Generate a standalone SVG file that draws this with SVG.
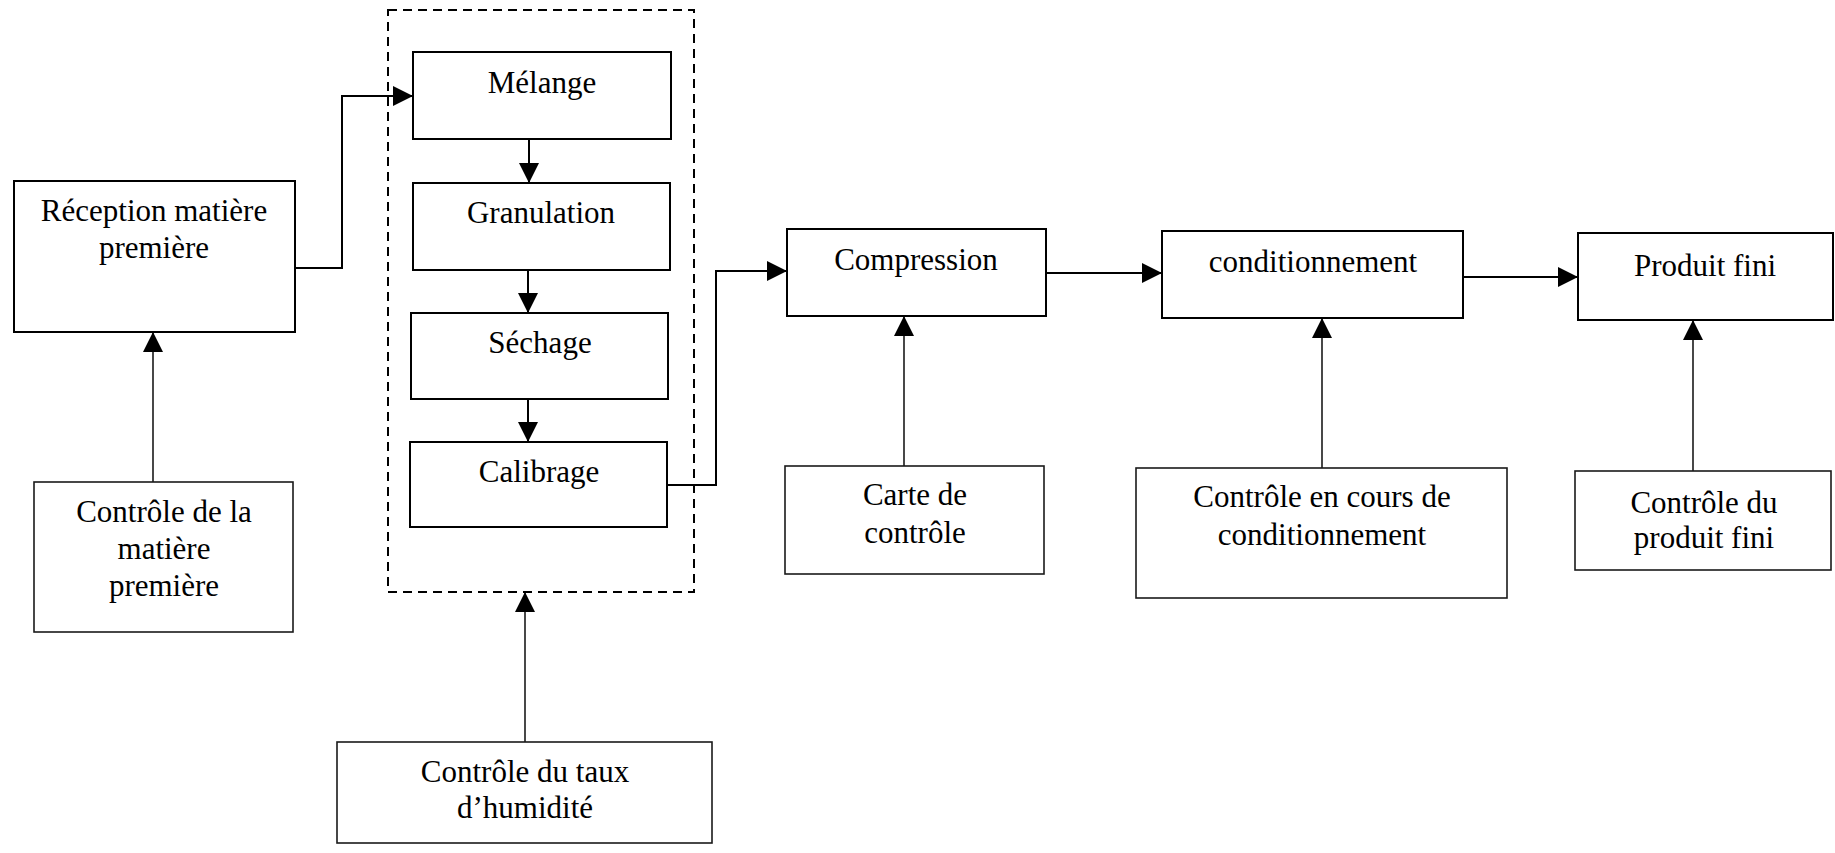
<svg xmlns="http://www.w3.org/2000/svg" width="1835" height="853" viewBox="0 0 1835 853">
  <style>
    .box { fill: #ffffff; stroke: #000000; stroke-width: 2; }
    .ctrl { fill: #ffffff; stroke: #1a1a1a; stroke-width: 1.6; }
    .group { fill: none; stroke: #000000; stroke-width: 2; stroke-dasharray: 9 6; }
    .label { font-family: "Liberation Serif", "Times New Roman", serif; font-size: 31px; fill: #000000; text-anchor: middle; }
    .flow { fill: none; stroke: #000000; stroke-width: 2; marker-end: url(#arrow); }
    .check { fill: none; stroke: #1a1a1a; stroke-width: 1.6; marker-end: url(#arrow); }
  </style>
  <defs>
    <marker id="arrow" markerUnits="userSpaceOnUse" markerWidth="20" markerHeight="20" refX="20" refY="10" orient="auto">
      <path d="M0,0 L20,10 L0,20 z" fill="#000000"/>
    </marker>
  </defs>
  <rect width="1835" height="853" fill="#ffffff"/>

  <!-- connectors -->
  <g id="connectors">
    <path class="flow" d="M295,268 H342 V96 H413"/>
    <path class="flow" d="M529,139 V183"/>
    <path class="flow" d="M528,270 V313"/>
    <path class="flow" d="M528,399 V442"/>
    <path class="flow" d="M667,485 H716 V271 H787"/>
    <path class="flow" d="M1046,273 H1162"/>
    <path class="flow" d="M1463,277 H1578"/>
    <path class="check" d="M153,482 V332"/>
    <path class="check" d="M525,742 V592"/>
    <path class="check" d="M904,466 V316"/>
    <path class="check" d="M1322,468 V318"/>
    <path class="check" d="M1693,471 V320"/>
  </g>

  <!-- wet granulation stage -->
  <g id="granulation-stage">
    <rect class="group" x="388" y="10" width="306" height="582"/>
  </g>

  <g id="reception">
    <rect class="box" x="14" y="181" width="281" height="151"/>
    <text class="label" x="154" y="221">Réception matière</text>
    <text class="label" x="154" y="258">première</text>
  </g>

  <g id="melange">
    <rect class="box" x="413" y="52" width="258" height="87"/>
    <text class="label" x="542" y="93">Mélange</text>
  </g>

  <g id="granulation">
    <rect class="box" x="413" y="183" width="257" height="87"/>
    <text class="label" x="541" y="223">Granulation</text>
  </g>

  <g id="sechage">
    <rect class="box" x="411" y="313" width="257" height="86"/>
    <text class="label" x="540" y="353">Séchage</text>
  </g>

  <g id="calibrage">
    <rect class="box" x="410" y="442" width="257" height="85"/>
    <text class="label" x="539" y="482">Calibrage</text>
  </g>

  <g id="compression">
    <rect class="box" x="787" y="229" width="259" height="87"/>
    <text class="label" x="916" y="270">Compression</text>
  </g>

  <g id="conditionnement">
    <rect class="box" x="1162" y="231" width="301" height="87"/>
    <text class="label" x="1313" y="272">conditionnement</text>
  </g>

  <g id="produit-fini">
    <rect class="box" x="1578" y="233" width="255" height="87"/>
    <text class="label" x="1705" y="276">Produit fini</text>
  </g>

  <g id="controle-matiere">
    <rect class="ctrl" x="34" y="482" width="259" height="150"/>
    <text class="label" x="164" y="522">Contrôle de la</text>
    <text class="label" x="164" y="559">matière</text>
    <text class="label" x="164" y="596">première</text>
  </g>

  <g id="controle-humidite">
    <rect class="ctrl" x="337" y="742" width="375" height="101"/>
    <text class="label" x="525" y="782">Contrôle du taux</text>
    <text class="label" x="525" y="818">d’humidité</text>
  </g>

  <g id="carte-controle">
    <rect class="ctrl" x="785" y="466" width="259" height="108"/>
    <text class="label" x="915" y="505">Carte de</text>
    <text class="label" x="915" y="543">contrôle</text>
  </g>

  <g id="controle-conditionnement">
    <rect class="ctrl" x="1136" y="468" width="371" height="130"/>
    <text class="label" x="1322" y="507">Contrôle en cours de</text>
    <text class="label" x="1322" y="545">conditionnement</text>
  </g>

  <g id="controle-produit-fini">
    <rect class="ctrl" x="1575" y="471" width="256" height="99"/>
    <text class="label" x="1704" y="513">Contrôle du</text>
    <text class="label" x="1704" y="548">produit fini</text>
  </g>
</svg>
